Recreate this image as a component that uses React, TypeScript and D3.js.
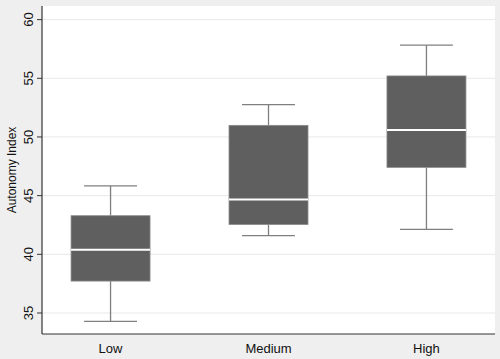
import React from "react";
import * as d3 from "d3";

const categories = ["Low", "Medium", "High"];
const q1 = [37.72, 42.54, 47.41];
const median = [40.38, 44.68, 50.59];
const q3 = [43.29, 50.99, 55.2];
const whiskerLow = [34.29, 41.6, 42.12];
const whiskerHigh = [45.83, 52.75, 57.83];
const yTicks = [35, 40, 45, 50, 55, 60];

const W = 500;
const H = 359;
const left = 42;
const right = 495;
const top = 6;
const bottom = 334;

export default function App() {
  const y = d3.scaleLinear().domain([33.21, 61.16]).range([bottom, top]);
  const x = d3
    .scaleBand<string>()
    .domain(categories)
    .range([left, right])
    .paddingInner(0.5)
    .paddingOuter(0.184);
  const bw = x.bandwidth();
  const capW = bw * 0.67;
  const font = "'Liberation Sans', Arial, sans-serif";

  return (
    <svg width={W} height={H} style={{ position: "absolute", left: 0, top: 0 }} fontFamily={font}>
      <rect x={0} y={0} width={W} height={H} fill="#efefef" />
      <rect x={left} y={top} width={right - left} height={bottom - top} fill="#ffffff" />
      {yTicks.map((t) => (
        <line key={"g" + t} x1={left} x2={right} y1={y(t)} y2={y(t)} stroke="#e8e8e8" strokeWidth={1} />
      ))}
      {categories.map((c, i) => {
        const x0 = x(c)!;
        const cx = x0 + bw / 2;
        return (
          <g key={c}>
            <line x1={cx} x2={cx} y1={y(whiskerHigh[i])} y2={y(q3[i])} stroke="#7f7f7f" strokeWidth={1.3} />
            <line x1={cx} x2={cx} y1={y(q1[i])} y2={y(whiskerLow[i])} stroke="#7f7f7f" strokeWidth={1.3} />
            <line x1={cx - capW / 2} x2={cx + capW / 2} y1={y(whiskerHigh[i])} y2={y(whiskerHigh[i])} stroke="#7f7f7f" strokeWidth={1.3} />
            <line x1={cx - capW / 2} x2={cx + capW / 2} y1={y(whiskerLow[i])} y2={y(whiskerLow[i])} stroke="#7f7f7f" strokeWidth={1.3} />
            <rect x={x0} y={y(q3[i])} width={bw} height={y(q1[i]) - y(q3[i])} fill="#5f5f5f" stroke="#8a8a8a" strokeWidth={0.8} />
            <line x1={x0} x2={x0 + bw} y1={y(median[i])} y2={y(median[i])} stroke="#ffffff" strokeWidth={2} />
            <text x={cx} y={bottom + 19} textAnchor="middle" fontSize={13} fill="#111">
              {c}
            </text>
          </g>
        );
      })}
      <line x1={left} x2={left} y1={top} y2={bottom} stroke="#333" strokeWidth={1.2} />
      <line x1={left} x2={right} y1={bottom} y2={bottom} stroke="#333" strokeWidth={1.2} />
      {yTicks.map((t) => (
        <g key={"t" + t}>
          <line x1={left - 5} x2={left} y1={y(t)} y2={y(t)} stroke="#333" strokeWidth={1} />
          <text
            transform={`translate(${left - 9},${y(t)}) rotate(-90)`}
            textAnchor="middle"
            fontSize={13}
            fill="#111"
          >
            {t}
          </text>
        </g>
      ))}
      <text
        transform={`translate(16,${(top + bottom) / 2}) rotate(-90)`}
        textAnchor="middle"
        fontSize={12}
        fill="#111"
      >
        Autonomy Index
      </text>
    </svg>
  );
}
